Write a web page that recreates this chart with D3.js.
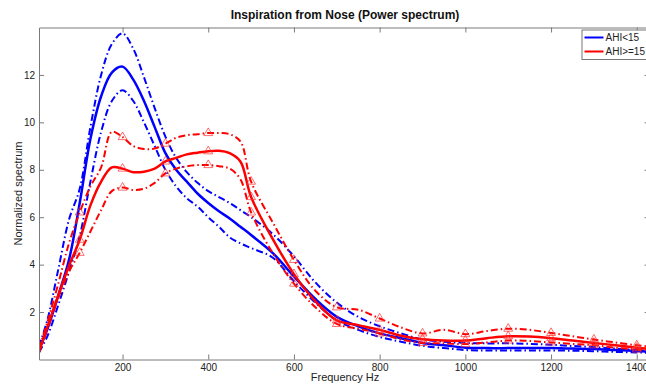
<!DOCTYPE html>
<html>
<head>
<meta charset="utf-8">
<script src="https://cdn.jsdelivr.net/npm/d3@7"></script>
<style>
  body { margin: 0; background: #fff; }
  svg { display: block; font-family: "Liberation Sans", Arial, sans-serif; }
</style>
</head>
<body>
<svg id="chart" width="646" height="384"></svg>
<script>
// frequency bins (Hz)
const freqs = [5, 25, 50, 75, 100, 125, 150, 175, 200, 225, 250, 275, 300, 325, 350, 375, 400, 425, 450, 475,
    500, 550, 600, 650, 700, 750, 800, 850, 900, 950, 1000, 1050, 1100, 1150, 1200, 1250, 1300, 1350, 1400, 1430];

// AHI<15 : mean, upper, lower
const low_mean = [0.4, 1.3, 2.7, 4.2, 6.6, 9.3, 11.1, 12.1, 12.35, 11.8, 10.9, 9.8, 8.7, 8.0, 7.5, 7.0, 6.6, 6.25, 5.95, 5.6,
    5.25, 4.5, 3.5, 2.55, 1.8, 1.4, 1.1, 0.9, 0.7, 0.6, 0.5, 0.48, 0.48, 0.48, 0.48, 0.46, 0.44, 0.4, 0.36, 0.33];
const low_upper = [0.55, 1.7, 3.8, 5.9, 7.2, 9.8, 12.0, 13.3, 13.75, 13.1, 11.9, 10.6, 9.4, 8.5, 7.9, 7.45, 7.1, 6.85, 6.6, 6.3,
    6.0, 5.3, 4.35, 3.25, 2.4, 1.8, 1.4, 1.1, 0.85, 0.75, 0.7, 0.68, 0.68, 0.66, 0.62, 0.57, 0.52, 0.46, 0.4, 0.37];
const low_lower = [0.3, 1.0, 2.3, 3.7, 5.2, 7.5, 9.6, 10.9, 11.35, 10.9, 10.0, 9.0, 8.0, 7.3, 6.8, 6.45, 6.0, 5.6, 5.15, 4.9,
    4.7, 4.3, 3.3, 2.4, 1.65, 1.25, 0.95, 0.75, 0.58, 0.48, 0.4, 0.38, 0.38, 0.38, 0.38, 0.37, 0.35, 0.32, 0.3, 0.28];

// AHI>=15 : mean, upper, lower
const high_mean = [0.35, 1.4, 2.7, 3.95, 5.05, 6.5, 7.5, 8.1, 8.05, 7.9, 7.92, 8.05, 8.35, 8.5, 8.65, 8.72, 8.78, 8.8, 8.7, 8.35,
    6.85, 5.1, 3.6, 2.45, 1.65, 1.45, 1.25, 1.0, 0.85, 0.8, 0.8, 0.9, 0.98, 0.97, 0.9, 0.8, 0.7, 0.6, 0.5, 0.45];
const high_upper = [0.45, 1.6, 3.2, 4.9, 6.2, 7.3, 8.1, 9.6, 9.38, 9.0, 8.88, 8.9, 9.1, 9.35, 9.46, 9.5, 9.55, 9.55, 9.5, 9.2,
    7.5, 5.8, 4.2, 2.9, 2.2, 2.1, 1.73, 1.35, 1.1, 1.25, 1.07, 1.2, 1.3, 1.25, 1.12, 0.98, 0.84, 0.72, 0.6, 0.55];
const high_lower = [0.28, 1.3, 2.6, 3.7, 4.5, 5.4, 6.3, 7.1, 7.25, 7.15, 7.2, 7.45, 7.85, 8.05, 8.15, 8.2, 8.2, 8.15, 8.05, 7.6,
    6.2, 4.5, 3.2, 2.2, 1.5, 1.3, 1.1, 0.85, 0.7, 0.68, 0.65, 0.72, 0.8, 0.78, 0.72, 0.66, 0.6, 0.5, 0.42, 0.4];

const marker_freqs = [100, 200, 300, 400, 500, 600, 700, 800, 900, 1000, 1100, 1200, 1300, 1400];

const x_ticks = [200, 400, 600, 800, 1000, 1200, 1400];
const y_ticks = [2, 4, 6, 8, 10, 12];

const legend_labels = ["AHI<15", "AHI>=15"];
const legend_colors = ["#0000ff", "#ff0000"];

const svg = d3.select("#chart");

const plot = { left: 39, right: 649.6, top: 27.5, bottom: 359.5 };

const x_scale = d3.scaleLinear().domain([5, 1430]).range([plot.left, plot.right]);
const y_scale = d3.scaleLinear().domain([0, 14]).range([plot.bottom, plot.top]);

const line = d3
    .line()
    .x((d) => x_scale(d.f))
    .y((d) => y_scale(d.v))
    .curve(d3.curveCatmullRom.alpha(0.5));

function toPoints(values) {
    return freqs.map((f, i) => ({ f: f, v: values[i] }));
}

// series list: values, color, dashed?
const series = [
    { values: low_upper, color: "#0000ff", dashed: true, width: 2 },
    { values: low_lower, color: "#0000ff", dashed: true, width: 2 },
    { values: low_mean, color: "#0000ff", dashed: false, width: 2.5 },
    { values: high_upper, color: "#ff0000", dashed: true, width: 2, markers: true },
    { values: high_lower, color: "#ff0000", dashed: true, width: 2, markers: true },
    { values: high_mean, color: "#ff0000", dashed: false, width: 2.5, markers: true },
];

svg.append("clipPath").attr("id", "plotclip")
    .append("rect")
    .attr("x", plot.left)
    .attr("y", plot.top)
    .attr("width", plot.right - plot.left)
    .attr("height", plot.bottom - plot.top);

const lines_g = svg.append("g").attr("clip-path", "url(#plotclip)");

series.forEach((s) => {
    lines_g
        .append("path")
        .datum(toPoints(s.values))
        .attr("fill", "none")
        .attr("stroke", s.color)
        .attr("stroke-width", s.width)
        .attr("stroke-dasharray", s.dashed ? "7,3,1.5,3" : null)
        .attr("d", line);
});

// triangle markers on AHI>=15 curves
const triangle = d3.symbol().type(d3.symbolTriangle).size(34);
series.filter((s) => s.markers).forEach((s) => {
    const pts = toPoints(s.values).filter((d) => marker_freqs.includes(d.f));
    lines_g
        .selectAll(null)
        .data(pts)
        .enter()
        .append("path")
        .attr("d", triangle)
        .attr("transform", (d) => `translate(${x_scale(d.f)}, ${y_scale(d.v)})`)
        .attr("fill", "none")
        .attr("stroke", "#ff3030")
        .attr("stroke-opacity", 0.7)
        .attr("stroke-width", 1);
});

// axes (ticks inward, box on)
const axis_color = "#7a7a7a";

const xAxis = svg.append("g")
    .attr("transform", `translate(0, ${plot.bottom})`)
    .call(d3.axisBottom(x_scale).tickValues(x_ticks).tickFormat(d3.format("d"))
        .tickSizeInner(-5).tickSizeOuter(0).tickPadding(4));
const xAxisTop = svg.append("g")
    .attr("transform", `translate(0, ${plot.top})`)
    .call(d3.axisTop(x_scale).tickValues(x_ticks).tickSizeInner(-5).tickSizeOuter(0).tickFormat(""));
const yAxis = svg.append("g")
    .attr("transform", `translate(${plot.left}, 0)`)
    .call(d3.axisLeft(y_scale).tickValues(y_ticks).tickFormat(d3.format("d"))
        .tickSizeInner(-5).tickSizeOuter(0).tickPadding(4));
const yAxisRight = svg.append("g")
    .attr("transform", `translate(${plot.right}, 0)`)
    .call(d3.axisRight(y_scale).tickValues(y_ticks).tickSizeInner(-5).tickSizeOuter(0).tickFormat(""));

[xAxis, xAxisTop, yAxis, yAxisRight].forEach((a) => {
    a.select(".domain").attr("stroke", axis_color);
    a.selectAll(".tick line").attr("stroke", axis_color);
    a.selectAll(".tick text")
        .attr("fill", "#222")
        .style("font-size", "10px")
        .style("font-family", '"Liberation Sans", Arial, sans-serif');
});

// title and labels
svg.append("text")
    .attr("x", 345)
    .attr("y", 19)
    .attr("text-anchor", "middle")
    .style("font-size", "12px")
    .style("font-weight", "bold")
    .attr("fill", "#111")
    .text("Inspiration from Nose (Power spectrum)");

svg.append("text")
    .attr("x", 345)
    .attr("y", 381)
    .attr("text-anchor", "middle")
    .style("font-size", "11px")
    .attr("fill", "#222")
    .text("Frequency Hz");

svg.append("text")
    .attr("transform", `translate(21.5, ${(plot.top + plot.bottom) / 2}) rotate(-90)`)
    .attr("text-anchor", "middle")
    .style("font-size", "11px")
    .attr("fill", "#222")
    .text("Normalized spectrum");

// legend
const legend = svg.append("g").attr("transform", "translate(582, 30)");
legend.append("rect")
    .attr("x", 0)
    .attr("y", 0)
    .attr("width", 80)
    .attr("height", 29.5)
    .attr("fill", "#fff")
    .attr("stroke", "#777");
legend_labels.forEach((lab, i) => {
    const yy = 7.5 + i * 14;
    legend.append("line")
        .attr("x1", 2.5)
        .attr("x2", 21.5)
        .attr("y1", yy)
        .attr("y2", yy)
        .attr("stroke", legend_colors[i])
        .attr("stroke-width", 2);
    legend.append("text")
        .attr("x", 23.5)
        .attr("y", yy + 3.5)
        .style("font-size", "10px")
        .attr("fill", "#222")
        .text(lab);
});
</script>
</body>
</html>
